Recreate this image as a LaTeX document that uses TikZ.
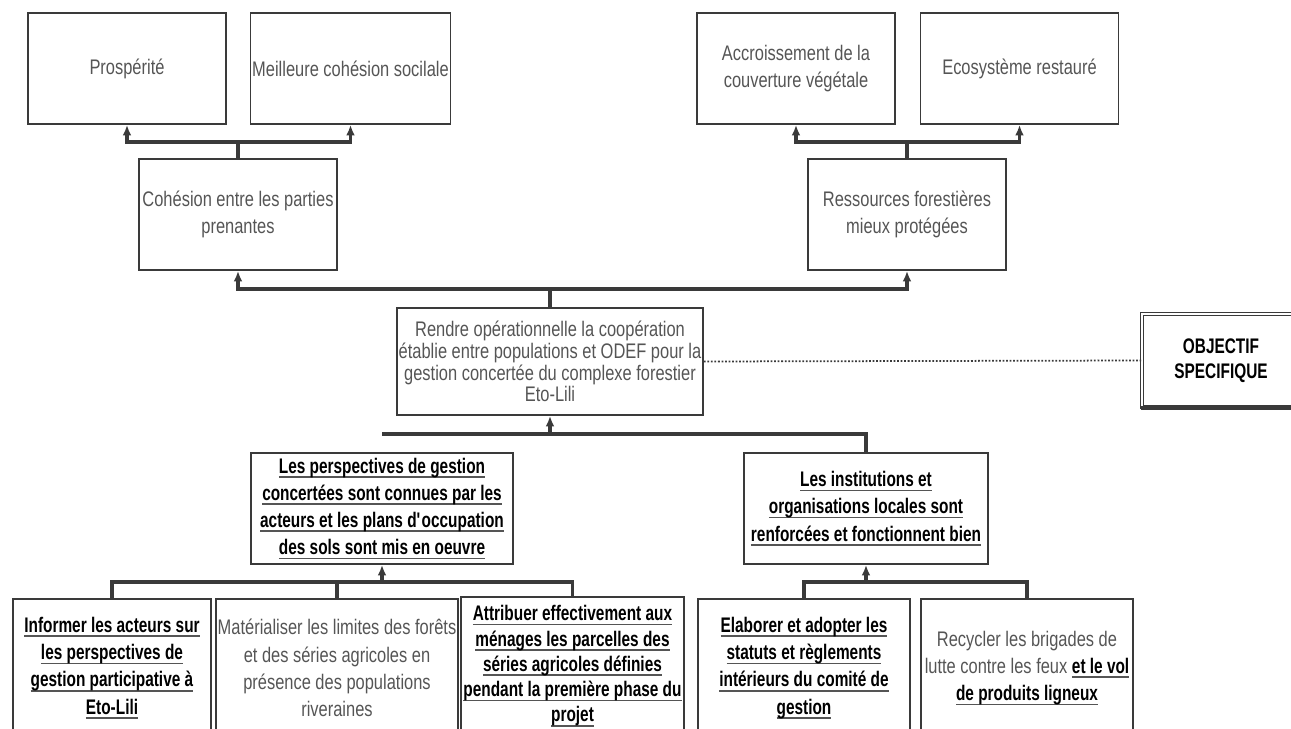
\documentclass[tikz,border=0pt]{standalone}
\usepackage{fontspec}
\setmainfont{Liberation Sans}[FakeStretch=0.78,BoldFeatures={FakeStretch=0.73}]
\usetikzlibrary{arrows.meta}
\definecolor{linegray}{HTML}{3A3A3A}
\definecolor{textgray}{HTML}{555555}
\newsavebox{\ulbox}
\newcommand{\ulin}[1]{\sbox{\ulbox}{#1}\rlap{\textcolor{textgray}{\rule[-2.6pt]{\wd\ulbox}{0.9pt}}}\usebox{\ulbox}}
\newcommand{\ubf}[1]{\textcolor{black}{\ulin{\textbf{#1}}}}

\begin{document}
\begin{tikzpicture}[x=0.02cm,y=-0.02cm,>={Latex[length=6pt,width=5pt]},
  box/.style={draw=linegray,line width=1pt,align=center,inner sep=1pt,
    text=textgray,font=\fontsize{12}{15}\selectfont},
  topbox/.style={box,minimum width=39.6mm,minimum height=22.2mm},
  midbox/.style={box,minimum height=22.2mm,text=black,
    font=\bfseries\fontsize{12}{15.5}\selectfont},
  lowbox/.style={box,minimum height=27.6mm,font=\fontsize{12}{15.5}\selectfont},
  link/.style={draw=linegray,line width=2pt}]

\useasboundingbox (0,0) rectangle (1291,729);

\node[topbox] (pros) at (127,68.5) {Prospérité};
\node[topbox] (meil) at (350.5,68.5) {Meilleure cohésion socilale};
\node[topbox] (accr) at (796,68.5) {Accroissement de la\\couverture végétale};
\node[topbox] (eco) at (1019.5,68.5) {Ecosystème restauré};
\node[topbox] (cohe) at (238,214.5) {Cohésion entre les parties\\prenantes};
\node[topbox] (ress) at (907,214.5) {Ressources forestières\\mieux protégées};

\node[box,minimum width=60.4mm,minimum height=21.4mm,font=\fontsize{12}{12.4}\selectfont]
  (rendre) at (550,361.5) {Rendre opérationnelle la coopération\\établie entre populations et ODEF pour la\\gestion concertée du complexe forestier\\Eto-Lili};
\node[box,double,double distance=0.8pt,minimum width=31.6mm,minimum height=18.6mm,
  text=black,font=\bfseries\fontsize{12}{14.5}\selectfont]
  (obj) at (1221,360.5) {OBJECTIF\\SPECIFIQUE};
\draw[line width=2.4pt,linegray] (obj.south west) -- (obj.south east);

\node[midbox,minimum width=52.4mm] (persp) at (382,508.5)
  {\ulin{Les perspectives de gestion}\\\ulin{concertées sont connues par les}\\\ulin{acteurs et les plans d\textquotesingle occupation}\\\ulin{des sols sont mis en oeuvre}};
\node[midbox,minimum width=48.8mm] (inst) at (866,508.5)
  {\ulin{Les institutions et}\\\ulin{organisations locales sont}\\\ulin{renforcées et fonctionnent bien}};

\node[lowbox,minimum width=39.6mm] (b1) at (112,668)
  {\ubf{Informer les acteurs sur}\\\ubf{les perspectives de}\\\ubf{gestion participative à}\\\ubf{Eto-Lili}};
\node[lowbox,minimum width=44.8mm] (b2) at (337,668)
  {Matérialiser les limites des forêts\\et des séries agricoles en\\présence des populations\\riveraines};
\node[lowbox,minimum width=44.6mm,font=\fontsize{12}{14.4}\selectfont] (b3) at (572.5,666)
  {\ubf{Attribuer effectivement aux}\\\ubf{ménages les parcelles des}\\\ubf{séries agricoles définies}\\\ubf{pendant la première phase du}\\\ubf{projet}};
\node[lowbox,minimum width=42.4mm] (b4) at (804,668)
  {\ubf{Elaborer et adopter les}\\\ubf{statuts et règlements}\\\ubf{intérieurs du comité de}\\\ubf{gestion}};
\node[lowbox,minimum width=42.4mm] (b5) at (1027,668)
  {Recycler les brigades de\\lutte contre les feux \ubf{et le vol}\\\ubf{de produits ligneux}};

\coordinate (t1) at (238,142);
\draw[link] (cohe.north) -- (t1);
\draw[link,->] (t1) -| (pros.south);
\draw[link,->] (t1) -| (meil.south);
\coordinate (t2) at (907,142);
\draw[link] (ress.north) -- (t2);
\draw[link,->] (t2) -| (accr.south);
\draw[link,->] (t2) -| (eco.south);

\coordinate (t3) at (550,289);
\draw[link] (rendre.north) -- (t3);
\draw[link,->] (t3) -| (cohe.south);
\draw[link,->] (t3) -| (ress.south);

\coordinate (t4) at (550,434);
\draw[link,->] (t4) -- (rendre.south);
\draw[link] (t4) -| (inst.north);
\draw[link] (t4) -- (t4 -| persp.north);
\draw[densely dotted,line width=1pt,linegray] (rendre.east) -- (obj.west);

\coordinate (t5) at (382,582);
\draw[link,->] (t5) -- (persp.south);
\draw[link] (t5) -| (b1.north);
\draw[link] (t5) -| (b3.north);
\draw[link] (b2.north) -- (b2.north |- t5);
\coordinate (t6) at (866,582);
\draw[link,->] (t6) -- (inst.south);
\draw[link] (t6) -| (b4.north);
\draw[link] (t6) -| (b5.north);

\end{tikzpicture}
\end{document}
